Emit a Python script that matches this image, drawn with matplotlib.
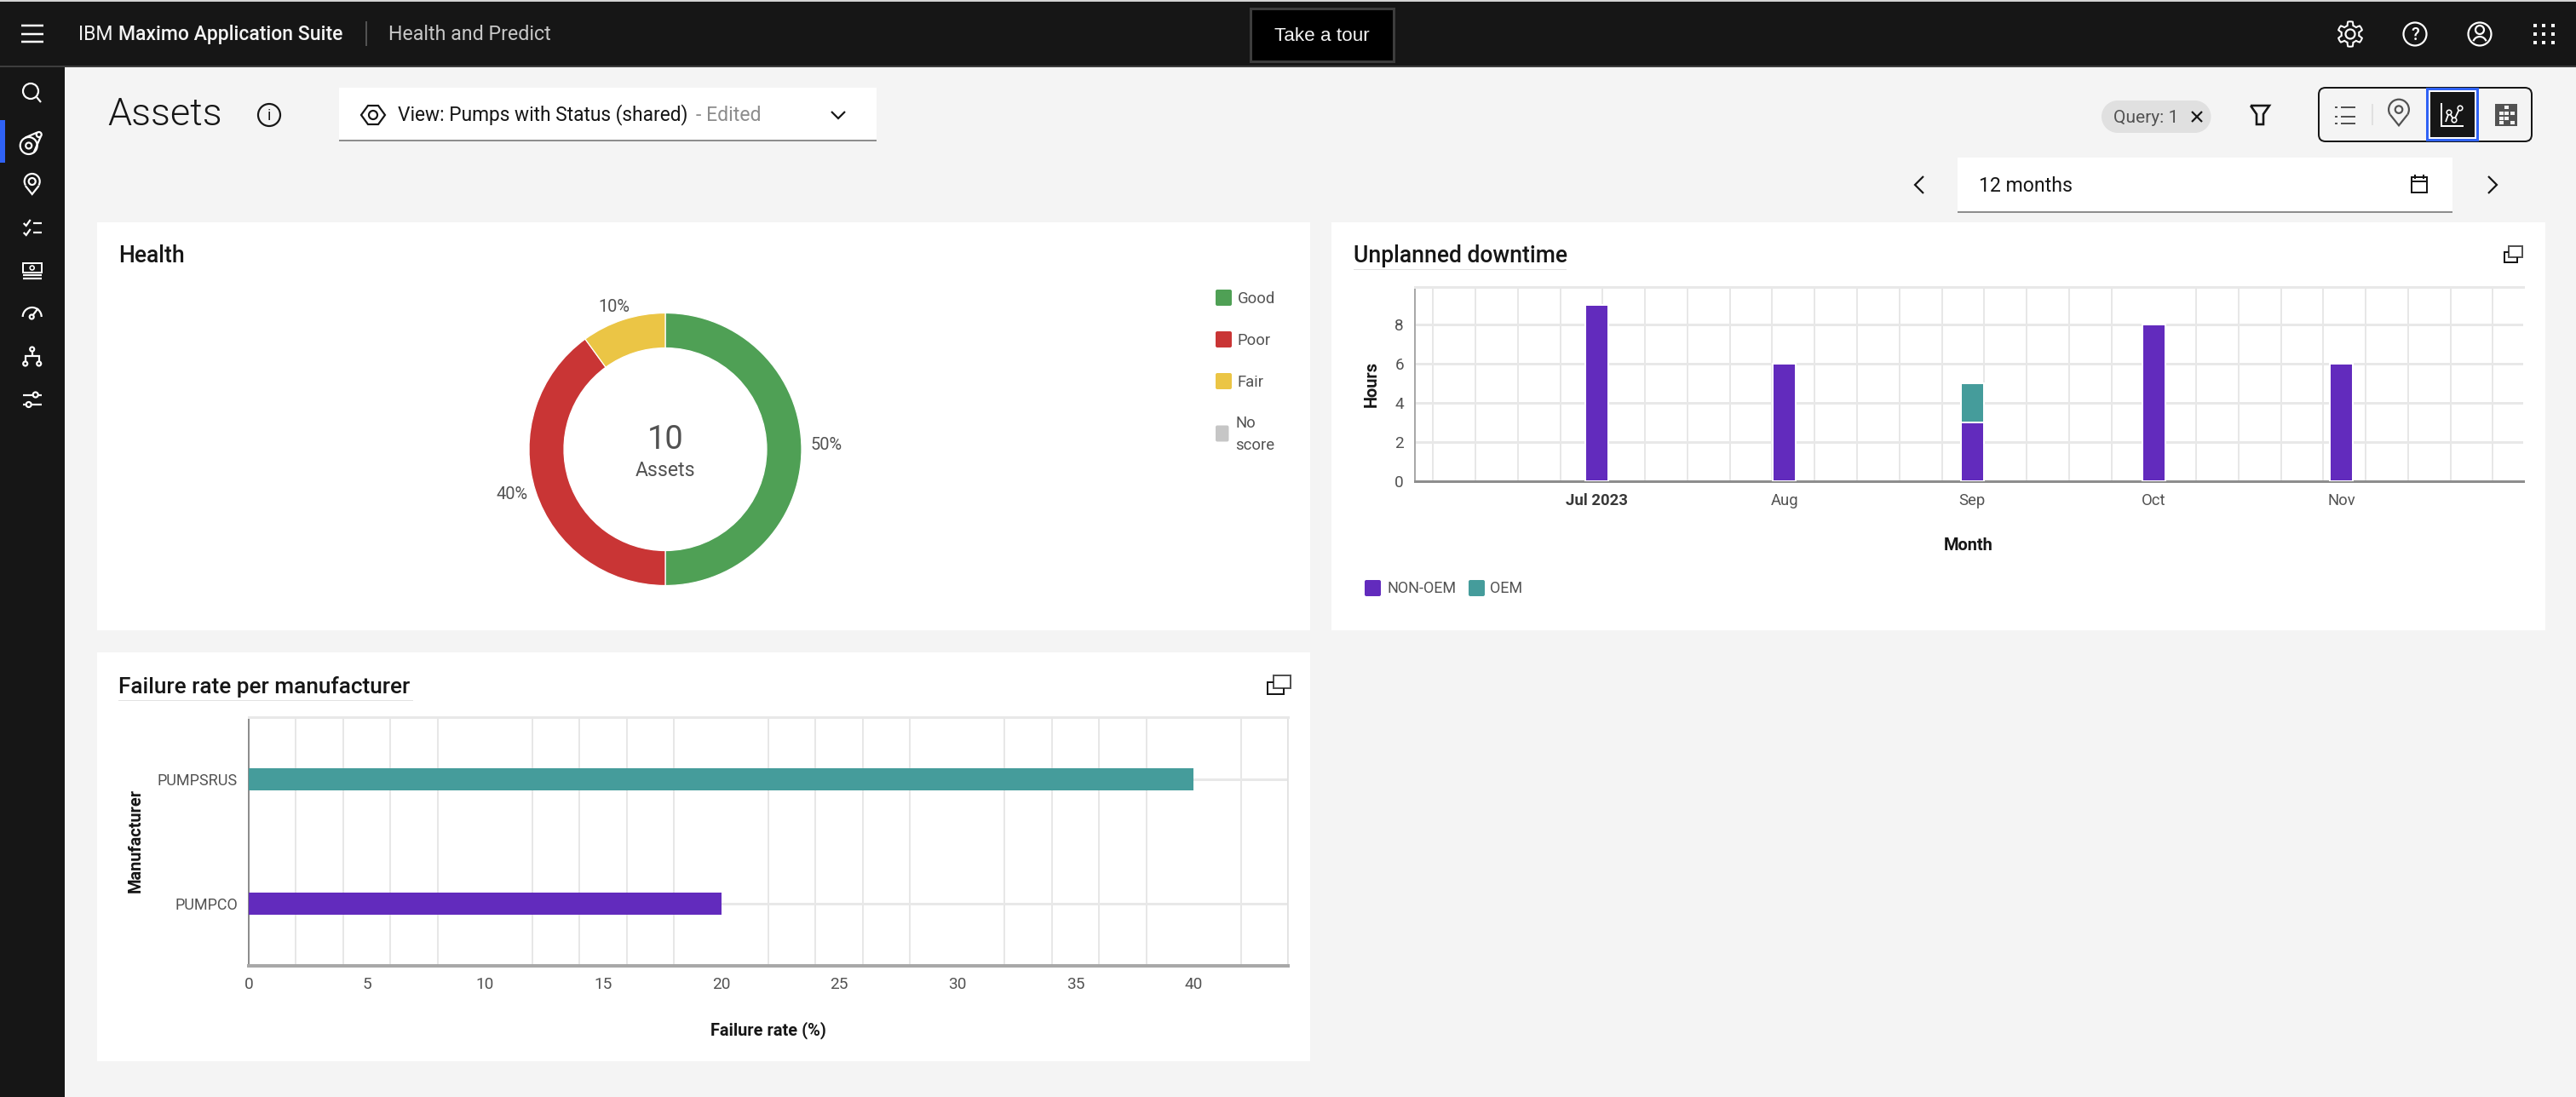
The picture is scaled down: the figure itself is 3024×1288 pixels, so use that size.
import math
import datetime as dt
import matplotlib
matplotlib.use("Agg")
import matplotlib.pyplot as plt
import matplotlib.dates as mdates
from matplotlib.patches import Rectangle, Circle, Arc, FancyBboxPatch, Polygon

# ---------- data ----------
health_labels = ["Good", "Poor", "Fair", "No\nscore"]
health_values = [50, 40, 10, 0]
health_total = 10

downtime_months = [dt.datetime(2023, 7, 1), dt.datetime(2023, 8, 1), dt.datetime(2023, 9, 1),
                   dt.datetime(2023, 10, 1), dt.datetime(2023, 11, 1)]
downtime_month_labels = ["Jul 2023", "Aug", "Sep", "Oct", "Nov"]
downtime_non_oem = [9, 6, 3, 8, 6]
downtime_oem = [0, 0, 2, 0, 0]

manufacturers = ["PUMPCO", "PUMPSRUS"]
failure_rates = [20, 40]
failure_ticks = [0, 5, 10, 15, 20, 25, 30, 35, 40]

# ---------- style ----------
W, H = 3024, 1288
FONT = "Roboto"
plt.rcParams["font.family"] = [FONT, "DejaVu Sans"]
C_BG, C_DARK = "#f4f4f4", "#161616"
C_PURPLE, C_TEAL = "#622bbd", "#459c9b"
C_GOOD, C_POOR, C_FAIR, C_NONE = "#4fa055", "#c93535", "#ebc545", "#c6c6c6"
C_TICK, C_TITLE = "#525252", "#161616"
C_GRID_V, C_GRID_H = "#e0e0e0", "#e8e8e8"
health_colors = [C_GOOD, C_POOR, C_FAIR, C_NONE]

def px(n):
    return n * 0.72

fig = plt.figure(figsize=(W / 100, H / 100), dpi=100, facecolor=C_BG)

ui = fig.add_axes([0, 0, 1, 1], zorder=0)
ui.set_xlim(0, W)
ui.set_ylim(H, 0)
ui.axis("off")

def rect(x0, y0, x1, y1, fc, ec="none", lw=0, z=1):
    ui.add_patch(Rectangle((x0, y0), x1 - x0, y1 - y0, fc=fc, ec=ec, lw=lw, zorder=z))

def line(xs, ys, c="white", lw=2.2, z=3):
    ui.plot(xs, ys, color=c, lw=px(lw), zorder=z, solid_capstyle="butt", solid_joinstyle="miter")

def circ(x, y, r, c="white", lw=2.2, fc="none", z=3):
    ui.add_patch(Circle((x, y), r, fc=fc, ec=c, lw=px(lw), zorder=z))

def arc(x, y, r, a0, a1, c="white", lw=2.2, z=3):
    ui.add_patch(Arc((x, y), 2 * r, 2 * r, theta1=a0, theta2=a1, color=c, lw=px(lw), zorder=z))

def label(x, y, s, size, c=C_TICK, ha="left", va="center", weight="normal", rot=0, fam=None):
    return ui.text(x, y, s, fontsize=px(size), color=c, ha=ha, va=va, weight=weight, rotation=rot,
                   zorder=5, family=fam if fam else [FONT, "DejaVu Sans"])

def pin(x, y, c, s=1.0):
    arc(x, y - 4 * s, 14 * s, 150, 390, c)
    line([x - 12 * s, x, x + 12 * s], [y + 3 * s, y + 18 * s, y + 3 * s], c)
    circ(x, y - 4 * s, 5 * s, c)

# ---------- chrome ----------
rect(0, 0, W, 2, "#d4d4d4")
rect(0, 2, W, 77, C_DARK)
rect(0, 77, W, 79, "#3d3d3d")
rect(0, 79, 76, H, C_DARK)
rect(0, 141, 6, 191, "#2f62f5", z=2)
for y in (30, 39.5, 49):
    line([25, 51], [y, y], lw=2.5)
label(92, 40, "IBM", 23, "#f4f4f4")
label(139, 40, "Maximo Application Suite", 23, "#f4f4f4", weight=500)
line([430, 430], [25, 54], "#525252", 2)
label(456, 40, "Health and Predict", 23.2, "#c6c6c6")

rect(1468, 9.5, 1636, 72, "#000000", "#3d3d3d", px(3), z=2)
label(1552, 42, "Take a tour", 22.5, "#f4f4f4", ha="center", fam="Liberation Sans")

# top right icons
gear = []
for k in range(96):
    t = 2 * math.pi * k / 96
    gear.append((2759 + (12.5 + 2.2 * max(-1, min(1, 2.5 * math.cos(6 * t)))) * math.sin(t),
                 40 + (12.5 + 2.2 * max(-1, min(1, 2.5 * math.cos(6 * t)))) * math.cos(t)))
ui.add_patch(Polygon(gear, closed=True, fc="none", ec="white", lw=px(2), zorder=3))
circ(2759, 40, 5.5)
circ(2835, 40, 13.5)
label(2835, 41, "?", 20, "white", ha="center", weight=500)
circ(2911, 40, 13.5)
circ(2911, 35, 5)
arc(2911, 51, 8, 200, 340)
for x in (2975.5, 2986, 2997):
    for y in (30, 39.5, 50):
        rect(x - 2, y - 2, x + 2, y + 2, "white", z=3)

# sidebar icons
sx = 37.7
circ(36, 107, 9)
line([43, 48], [114, 120])
circ(sx - 4, 171, 10)
circ(sx - 4, 171, 3.5)
circ(sx + 8, 158, 3)
line([sx - 8, sx + 6], [161.5, 155.5])
line([sx + 2, sx + 10], [179, 160.5])
circ(sx, 213, 4)
arc(sx, 213, 9, 150, 390)
line([sx - 8, sx, sx + 8], [218, 228, 218])
for y in (262, 273):
    line([sx - 10, sx - 7, sx - 2], [y, y + 3, y - 4])
    line([sx + 1, sx + 11], [y, y])
ui.add_patch(Rectangle((sx - 11, 309), 22, 11, fc="none", ec="white", lw=px(2), zorder=3))
circ(sx, 314.5, 2.5, lw=1.6)
line([sx - 11, sx + 11], [323, 323])
line([sx - 11, sx + 11], [327, 327])
arc(sx, 372, 11, 180, 360)
circ(sx - 0.5, 372, 2.5)
line([sx + 1, sx + 7], [370, 362])
circ(sx, 410, 2.5)
line([sx, sx], [413, 418])
line([sx - 8, sx - 8, sx + 8, sx + 8], [424, 418, 418, 424])
circ(sx - 8, 427, 2.5)
circ(sx + 8, 427, 2.5)
line([sx - 11, sx + 1], [463.5, 463.5])
line([sx + 7, sx + 11], [463.5, 463.5])
circ(sx + 4, 463.5, 3)
line([sx - 11, sx - 7], [475, 475])
line([sx - 1, sx + 11], [475, 475])
circ(sx - 4, 475, 3)

# page header
label(126, 135, "Assets", 45, C_TITLE, weight=300)
circ(316, 135, 13, C_TITLE)
label(316, 136, "i", 18, C_TITLE, ha="center")
rect(398, 103, 1029, 164, "white")
rect(398, 164, 1029, 166, "#8d8d8d")
circ(438, 135, 5, C_TITLE)
ui.add_patch(Polygon([(424, 135), (432, 124), (444, 124), (452, 135), (444, 146), (432, 146)], closed=True,
                     fc="none", ec=C_TITLE, lw=px(2.2), zorder=3))
label(467, 135, "View: Pumps with Status (shared)", 22.7, C_TITLE)
label(817, 135, "- Edited", 23, "#8d8d8d")
line([976, 984, 992], [131, 139, 131], C_TITLE)

rect(2467 + 19, 118, 2595 - 19, 156, "#e0e0e0")
ui.add_patch(Circle((2486, 137), 19, fc="#e0e0e0", ec="none", zorder=1))
ui.add_patch(Circle((2576.5, 137), 19, fc="#e0e0e0", ec="none", zorder=1))
label(2481, 138, "Query: 1", 21, C_TICK)
line([2573, 2585], [131, 143], C_TITLE)
line([2585, 2573], [131, 143], C_TITLE)
line([2642, 2664, 2657, 2657, 2649, 2649, 2642], [124, 124, 134, 146, 146, 134, 124], C_TITLE, 2.6)

ui.add_patch(FancyBboxPatch((2725, 106), 244, 57, boxstyle="round,pad=3,rounding_size=8", fc="#f4f4f4",
                            ec=C_TITLE, lw=px(2), zorder=1))
for y in (126, 137, 144.5):
    line([2741, 2744], [y, y], C_TICK, 2)
    line([2748, 2765], [y, y], C_TICK, 2)
line([2785, 2785], [122, 147], "#e0e0e0", 2)
pin(2816, 132, C_TICK, 0.85)
rect(2848, 103, 2909.5, 165.5, "#2f62f5", z=2)
rect(2851, 106, 2906.5, 162.5, "white", z=2)
rect(2853, 108, 2904.5, 160.5, C_DARK, z=2)
line([2866, 2866, 2892], [121, 148, 148], "white", 2)
line([2871, 2875, 2881, 2887], [143, 132, 141, 128], "white", 1.8)
for cx, cy in ((2875, 132), (2881, 141), (2888, 127)):
    circ(cx, cy, 2.8, "white", 1.6, fc=C_DARK)
rect(2929, 122, 2955, 148, C_TICK, z=2)
for cx, cy in ((2942, 126), (2936, 133), (2942, 133), (2949, 133), (2936, 139), (2942, 139), (2949, 144),
               (2936, 144)):
    rect(cx - 2.5, cy - 2, cx + 2.5, cy + 2, "#f4f4f4", z=3)

line([2258, 2248, 2258], [207, 217, 227], C_TITLE)
rect(2298, 185, 2879, 248, "white")
rect(2298, 248, 2879, 250, "#8d8d8d")
label(2323, 218, "12 months", 23, C_TITLE)
ui.add_patch(Rectangle((2831, 208), 18, 18, fc="none", ec=C_TITLE, lw=px(2), zorder=3))
line([2831, 2849], [213, 213], C_TITLE, 2)
line([2835, 2835], [205, 210], C_TITLE, 2)
line([2845, 2845], [205, 210], C_TITLE, 2)
line([2921, 2931, 2921], [207, 217, 227], C_TITLE)

# panels
rect(114, 261, 1538, 740, "white")
rect(1563, 261, 2988, 740, "white")
rect(114, 766, 1538, 1246, "white")

label(139, 300, "Health", 26.5, C_TITLE, weight=500)
label(1589, 300, "Unplanned downtime", 26.5, C_TITLE, weight=500)
label(139, 806, "Failure rate per manufacturer", 26.3, C_TITLE, weight=500)
line([1589, 1839], [316, 316], "#c6c6c6", 1)
ui.lines[-1].set_linestyle((0, (1, 1)))
line([139, 484], [822, 822], "#c6c6c6", 1)
ui.lines[-1].set_linestyle((0, (1, 1)))

def expand_icon(x0, y0, x1, y1):
    w, h = x1 - x0, y1 - y0
    ui.add_patch(Rectangle((x0 + 0.25 * w, y0), 0.75 * w, 0.7 * h, fc="white", ec=C_TICK, lw=px(2), zorder=3))
    line([x0 + 0.25 * w, x0, x0, x0 + 0.7 * w, x0 + 0.7 * w], [y0 + 0.35 * h, y0 + 0.35 * h, y1, y1, y0 + 0.7 * h],
         C_TITLE, 2)

expand_icon(2940, 289, 2961, 308)
expand_icon(1488, 793, 1515, 815)

def ax_px(x0, y0, x1, y1, z=2):
    a = fig.add_axes([x0 / W, 1 - y1 / H, (x1 - x0) / W, (y1 - y0) / H], zorder=z)
    a.patch.set_alpha(0)
    return a

# ---------- health donut ----------
cx, cy, R, r = 781, 527.5, 160, 119
ad = ax_px(cx - 170, cy - 170, cx + 170, cy + 170)
shown = [(v, c) for v, c in zip(health_values, health_colors) if v > 0]
ad.pie([v for v, _ in shown], colors=[c for _, c in shown], startangle=90, counterclock=False, radius=R / 170,
       wedgeprops=dict(width=(R - r) / 170, edgecolor="white", linewidth=0.9))
ad.set_xlim(-1, 1)
ad.set_ylim(-1, 1)
label(970, 522.5, f"{health_values[0]}%", 20, ha="center")
label(601.5, 580.5, f"{health_values[1]}%", 20, ha="center")
label(721, 360, f"{health_values[2]}%", 20, ha="center")
label(cx, 516, str(health_total), 38, ha="center")
label(cx, 552.5, "Assets", 23, ha="center")
leg_y = [349.5, 398.5, 447.5, 509]
for i, (name, col, y) in enumerate(zip(health_labels, health_colors, leg_y)):
    sw = 19 if i < 3 else 15.5
    ui.add_patch(FancyBboxPatch((1427 + 2, y - 9.5 + 2), sw - 4, 15, boxstyle="round,pad=2,rounding_size=2",
                                fc=col, ec="none", zorder=3))
    if i < 3:
        label(1453, y + 1, name, 18.5)
    else:
        first, second = name.split("\n")
        label(1450, y - 12, first, 18.5)
        label(1450, y + 14, second, 18.5)

# ---------- unplanned downtime ----------
a1 = ax_px(1661, 337, 2962, 565)
start, end = dt.datetime(2023, 6, 1), dt.datetime(2023, 12, 1)
a1.set_xlim(mdates.date2num(start), mdates.date2num(end))
a1.set_ylim(0, 228 / 23)
bw = 27 / (1301 / 183)
a1.bar(downtime_months, downtime_non_oem, width=bw, color=C_PURPLE, edgecolor="white", linewidth=px(2), zorder=3)
a1.bar(downtime_months, downtime_oem, bottom=downtime_non_oem, width=bw, color=C_TEAL, edgecolor="white",
       linewidth=px(2), zorder=3)
a1.set_xticks(downtime_months)
a1.set_xticklabels(downtime_month_labels, fontsize=px(18.5), color=C_TICK)
a1.get_xticklabels()[0].set_weight(700)
a1.get_xticklabels()[0].set_color("#393939")
a1.xaxis.set_minor_locator(mdates.WeekdayLocator(byweekday=mdates.SU))
a1.grid(True, which="minor", axis="x", color=C_GRID_V, lw=px(1.5), zorder=0)
a1.grid(True, which="major", axis="y", color=C_GRID_H, lw=px(3), zorder=0)
a1.set_yticks([0, 2, 4, 6, 8])
a1.tick_params(axis="both", which="both", length=0)
a1.tick_params(axis="x", pad=px(14))
a1.tick_params(axis="y", labelsize=px(19), labelcolor=C_TICK, pad=px(13))
a1.spines["right"].set_visible(False)
a1.spines["top"].set_color(C_GRID_H)
a1.spines["top"].set_linewidth(px(3))
a1.spines["left"].set_color("#a8a8a8")
a1.spines["left"].set_linewidth(px(2))
a1.spines["bottom"].set_color("#8d8d8d")
a1.spines["bottom"].set_linewidth(px(3))
label(1610, 451, "Hours", 20, C_TITLE, ha="center", weight=700, rot=90)
label(2311, 640, "Month", 20, C_TITLE, ha="center", weight=700)
for x, col, name, tx in ((1602, C_PURPLE, "NON-OEM", 1628), (1724, C_TEAL, "OEM", 1749)):
    ui.add_patch(FancyBboxPatch((x + 2, 681 + 2), 15, 15, boxstyle="round,pad=2,rounding_size=2", fc=col,
                                ec="none", zorder=3))
    label(tx, 691, name, 18)

# ---------- failure rate ----------
a2 = ax_px(292, 842, 1512, 1134)
a2.set_xlim(0, 44)
a2.set_ylim(-0.5, 1.5)
a2.barh(manufacturers, failure_rates, height=0.175, color=[C_PURPLE, C_TEAL], zorder=3)
a2.set_xticks(failure_ticks)
a2.set_xticks(list(range(0, 45, 2)), minor=True)
a2.grid(True, which="minor", axis="x", color=C_GRID_V, lw=px(1.5), zorder=0)
a2.grid(True, which="major", axis="y", color=C_GRID_H, lw=px(3), zorder=0)
a2.tick_params(axis="both", which="both", length=0)
a2.tick_params(axis="x", labelsize=px(19), labelcolor=C_TICK, pad=px(13))
a2.tick_params(axis="y", labelsize=px(18), labelcolor=C_TICK, pad=px(13))
a2.spines["right"].set_color(C_GRID_V)
a2.spines["right"].set_linewidth(px(1.5))
a2.spines["top"].set_color(C_GRID_H)
a2.spines["top"].set_linewidth(px(3))
a2.spines["left"].set_color("#8d8d8d")
a2.spines["left"].set_linewidth(px(2))
a2.spines["bottom"].set_color("#a8a8a8")
a2.spines["bottom"].set_linewidth(px(4))
label(901.5, 1209.5, "Failure rate (%)", 20, C_TITLE, ha="center", weight=700)
label(159.5, 987, "Manufacturer", 20, C_TITLE, ha="center", weight=700, rot=90)

fig.savefig("out.png", dpi=100, facecolor=fig.get_facecolor())
